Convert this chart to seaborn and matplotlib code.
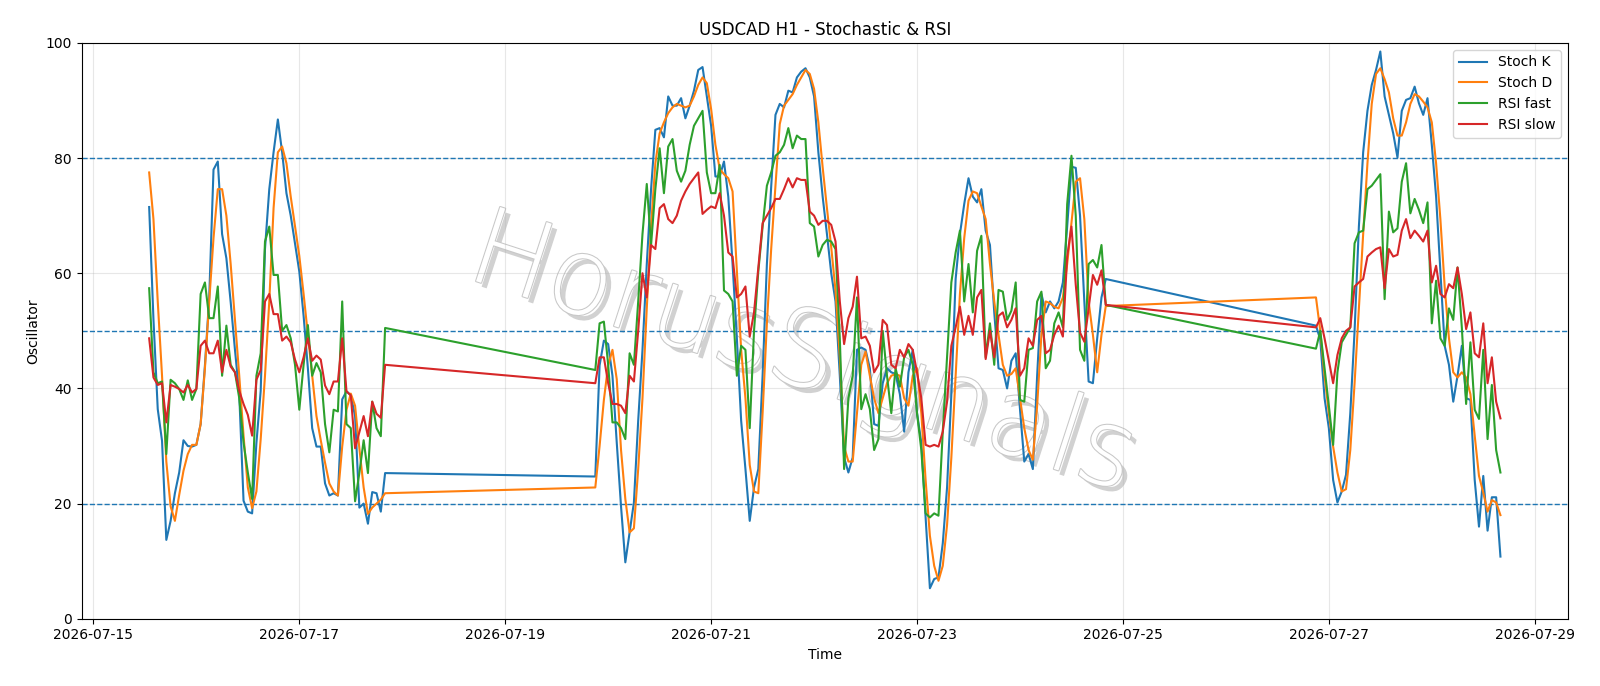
import numpy as np
import pandas as pd
import matplotlib
matplotlib.use("Agg")
import matplotlib.pyplot as plt
import matplotlib.dates as mdates
import matplotlib.patheffects as pe
import seaborn as sns

# ---- time axis: three hourly sessions (weekend gaps between) ----
seg1_start, seg1_n = "2026-07-15 13:00", 56
seg2_start, seg2_n = "2026-07-19 21:00", 120
seg3_start, seg3_n = "2026-07-26 21:00", 44

# ---- Stoch K ----
stoch_k = [
    71.5, 52, 36.4, 30.9, 13.7, 17, 21.8, 25.4, 31, 30, 29.9, 30.2, 33.8, 44, 55.8, 78, 79.4, 66.8, 62.6, 55,
    46.7, 39, 20.5, 18.6, 18.3, 30.5, 39.6, 64.2, 74.6, 81, 86.7, 81, 73.9, 70, 65.2, 60.3, 52.6, 43.5, 33.1, 29.9,
    29.9, 23.5, 21.4, 21.8, 21.4, 38.1, 39.5, 38.8, 35.2, 19.3, 20, 16.5, 22, 21.8, 18.6, 25.3,
    # seg 2
    24.7, 44, 48.3, 47.7, 42.2, 30.6, 19.5, 9.8, 15, 20.2, 34.4, 46.7, 61.6, 74.6, 84.9, 85.2, 83.6, 90.7, 89.1, 89.1,
    90.4, 86.9, 89.1, 91.7, 95.3, 95.8, 90.7, 85.6,
    76.8, 76.8, 79.4, 73.3, 61.6, 48.7, 34.4, 26, 17, 22.8, 26, 42.2, 61.6, 75, 87.5, 89.4, 88.8, 91.7, 91.4, 94,
    95, 95.6, 94, 90.7, 81, 73.3, 66.8, 60,
    55.1, 42.2, 28, 25.4, 28, 46.7, 47.1, 46.7, 43.5, 33.8, 33.5, 40.9, 43.5, 42.8, 42.5, 39, 32.5, 42.8, 46.7, 35.7,
    30.6, 17.6, 5.3, 6.9, 7.2, 13.1, 22.8, 39,
    59, 66.8, 72, 76.5, 73.3, 72.3, 74.6, 67.4, 64.9, 53.2, 43.5, 43.2, 40, 44.8, 46.1, 36.4, 27.3, 28.6, 26, 42.2,
    56.4, 53.2, 55.1, 53.9, 55.1, 58.4, 68.1, 78.5,
    78.3, 70, 55.1, 41.2, 40.9, 48.7, 55.8, 59,
    # seg 3
    50.9, 48.5, 38.3, 33.1, 24.1, 20.2, 22.1, 25, 35.7, 50, 68.1, 81, 88.2, 92.7, 95.3, 98.5, 90.7, 87.5, 84.3, 80.1,
    88.2, 90.1, 90.4, 92.4, 89.5, 87.5, 90.4, 82.3, 73.3, 60.3, 47.4, 44.1, 37.7, 42.2, 47.4, 38.3, 38, 24.1, 16, 24.8,
    15.3, 21.1, 21.1, 10.8,
]

# ---- Stoch D ----
stoch_d = [
    77.5, 69.4, 55.1, 42.2, 27.3, 19.5, 17, 21.5, 25.7, 28.6, 30.2, 30.2, 33.8, 43.5, 55.1, 66.1, 74.6, 74.6, 70, 61.6,
    51.9, 42.2, 31.8, 22.8, 19.2, 22.1, 31.2, 42.2, 55.1, 71.3, 81, 82, 79.1, 73.3, 68.1, 63, 56.4, 49.3, 42.2, 35.2,
    31, 27.1, 23.5, 22.1, 21.4, 29.9, 36.3, 39.1, 37, 29.6, 22.8, 18.2, 19.3, 20, 20.7, 21.8,
    # seg 2
    22.8, 30, 38, 44, 46.7, 41.6, 29.3, 20.8, 15, 15.7, 26, 38.3, 53.9, 68.1, 79.1, 84.3, 86.2, 87.8, 88.8, 89.4,
    89.1, 88.8, 89.1, 90.7, 92.7, 94, 93, 88.5,
    82.3, 78.1, 77.2, 76.5, 74.2, 60.3, 46.7, 38.3, 26.7, 22.1, 21.8, 35.7, 51.3, 64.2, 75.2, 85.9, 89.1, 90.1, 91.1, 92.7,
    94, 95.3, 94.6, 92, 86.2, 78.4, 71.3, 64.5,
    57, 45.4, 29.9, 27.3, 27.3, 35.7, 44.1, 46.4, 42.2, 38.3, 35.7, 38.3, 40.9, 42.2, 42.5, 42.2, 38.3, 37, 42.2, 43.5,
    35.7, 24.1, 14.4, 9.2, 6.6, 9.2, 16.3, 28,
    42.2, 56.4, 66.1, 72.6, 74.2, 73.9, 71.6, 69.4, 61.6, 55.1, 49.3, 44.1, 42.2, 42.5, 43.5, 38.3, 33.1, 29.3, 27.6, 37,
    49.3, 55.1, 54.8, 54.2, 53.9, 55.8, 61.6, 68.7,
    75.9, 76.5, 69.4, 55.1, 49.3, 42.8, 49.3, 54.3,
    # seg 3
    55.8, 50, 42.2, 35.7, 29.9, 25.4, 22.1, 22.5, 29.3, 40.9, 53.9, 66.8, 79.1, 89.4, 94.6, 95.6, 93.7, 91.4, 86.9, 83.9,
    83.9, 86.2, 89.4, 91.1, 90.7, 89.8, 88.8, 86.2, 79.1, 69.4, 57.7, 48.7, 42.8, 41.9, 42.8, 41.9, 39, 31.8, 24.8, 21.9,
    18.6, 20.6, 20.2, 18,
]

# ---- RSI fast ----
rsi_fast = [
    57.4, 42.8, 40.9, 41.2, 28.6, 41.5, 40.9, 39.9, 38, 41.4, 38, 39.9, 56.4, 58.4, 52.2, 52.2, 57.7, 42.2, 50.9, 44.1,
    42.8, 38.3, 30.6, 25.4, 20.8, 42.2, 46.1, 65.5, 68.1, 59.7, 59.7, 50, 51, 48.7, 44.1, 36.3, 44.1, 51, 42.2, 44.4,
    42.8, 33.8, 28.9, 36.3, 36, 55.1, 33.8, 33.1, 20.4, 25.3, 31, 25.3, 37.7, 33.1, 31.7, 50.5,
    # seg 2
    43.2, 51.3, 51.6, 44.1, 34.1, 34.1, 33.1, 31.2, 46.1, 44.1, 55.1, 66.8, 75.5, 64.9, 74.6, 81.7, 73.9, 82, 83.3, 77.8,
    75.9, 77.8, 82.3, 85.6, 86.9, 88.2, 77.5, 73.9,
    73.9, 78.8, 57, 56.4, 55.1, 42.2, 47.4, 46.7, 33.1, 50, 60.3, 68.1, 75.2, 77.5, 80.4, 81, 82.3, 85.2, 81.7, 83.9,
    83.3, 83.3, 68.7, 68.1, 62.9, 64.9, 65.8, 65.5,
    64.2, 48.7, 26, 38.3, 42.2, 55.8, 36.4, 39, 36.4, 29.3, 31.2, 50, 42.2, 35.7, 43.5, 40.3, 45.4, 46.7, 44.1, 35.7,
    29.3, 18.3, 17.6, 18.3, 17.9, 32.5, 45.4, 58.4,
    63.6, 67.4, 55.1, 61.6, 53.2, 63.9, 66.5, 45.4, 51.3, 44.1, 57.1, 56.8, 51.9, 53.5, 58.4, 38, 37.7, 46.7, 47, 55.1,
    56.8, 43.5, 44.8, 51.3, 53.2, 50.6, 72, 80.4,
    70, 46.7, 44.8, 61.6, 62.3, 61, 64.9, 54.5,
    # seg 3
    46.9, 50, 43.5, 37, 30.2, 42.8, 48, 49.3, 50.6, 65.2, 67.1, 67.4, 74.6, 75.2, 76.2, 77.2, 55.5, 70.7, 67.1, 67.8,
    75.9, 79.1, 70.4, 72.9, 71, 68.7, 72.3, 51.3, 58.7, 48.7, 47.4, 53.9, 51.9, 61, 50.6, 37.3, 48, 36.3, 34.7, 46.7,
    31.2, 40.6, 29.3, 25.4,
]

# ---- RSI slow ----
rsi_slow = [
    48.7, 41.9, 40.6, 40.9, 34.1, 40.6, 40.3, 39.9, 39.3, 40.6, 39.3, 39.9, 47.4, 48.3, 46.1, 46.1, 48.3, 42.8, 46.7, 43.8,
    42.8, 39.6, 37.3, 35.4, 31.8, 41.5, 43.2, 55.1, 56.4, 52.9, 52.9, 48.3, 49, 48, 45, 42.8, 45.4, 48.7, 44.8, 45.7,
    45, 40.5, 39, 41.2, 41.2, 48.7, 39.5, 38.8, 29.6, 32.4, 35.2, 31.7, 37.7, 35.6, 34.9, 44.1,
    # seg 2
    40.9, 45.4, 45.4, 40.9, 37.3, 37.3, 37, 35.7, 42.2, 41.2, 50, 60, 55.8, 64.9, 64.2, 71.3, 72, 69.4, 68.7, 70,
    72.6, 74.2, 75.5, 76.5, 77.5, 70.3, 71, 71.6,
    71.3, 73.9, 70, 63.6, 62.9, 55.8, 56.4, 57.7, 49, 53.2, 61, 68.7, 70, 71.3, 72.9, 72.9, 74.6, 76.5, 74.9, 76.5,
    76.2, 76.2, 70.7, 70, 68.4, 69.1, 69.1, 68.4,
    65.5, 55.1, 47.7, 52.2, 54.2, 59.4, 48.7, 49, 47.4, 42.8, 44.1, 51.9, 51, 44.1, 43.5, 46.7, 45.4, 47.7, 46.7, 42.8,
    38.3, 30.2, 29.9, 30.2, 29.9, 32.5, 37.7, 47.4,
    50.6, 54.2, 49.3, 52.6, 49.3, 55.8, 57.1, 45.1, 50, 45.4, 52.6, 53.2, 50.6, 51.9, 53.9, 42.2, 43.5, 48.7, 47.4, 51.9,
    52.6, 46.1, 46.7, 49.3, 50.9, 49, 62.9, 68.1,
    58, 49.7, 48.1, 53.9, 59.7, 58, 60.5, 54.5,
    # seg 3
    50.6, 52.2, 48.7, 44.8, 40.9, 45.8, 48.7, 50, 50.6, 57.7, 58.4, 59, 62.9, 63.6, 64.2, 64.5, 57.4, 64.2, 62.9, 63.2,
    67.4, 69.4, 66.1, 67.4, 66.5, 65.5, 67.4, 58.4, 61.3, 56.4, 55.8, 58.1, 57.4, 61, 56.4, 50.3, 53.2, 46.1, 45.4, 51.3,
    40.9, 45.4, 37.7, 34.8,
]

series_names = ["Stoch K", "Stoch D", "RSI fast", "RSI slow"]
levels = [20, 50, 80]

times = (pd.date_range(seg1_start, periods=seg1_n, freq="h")
         .append(pd.date_range(seg2_start, periods=seg2_n, freq="h"))
         .append(pd.date_range(seg3_start, periods=seg3_n, freq="h")))

df = pd.DataFrame({"Time": times, "Stoch K": stoch_k, "Stoch D": stoch_d,
                   "RSI fast": rsi_fast, "RSI slow": rsi_slow})
long = df.melt(id_vars="Time", var_name="series", value_name="value")

fig, ax = plt.subplots(figsize=(16, 6.86), dpi=100)
fig.subplots_adjust(left=0.051, right=0.980, top=0.9375, bottom=0.098)

palette = dict(zip(series_names, ["#1f77b4", "#ff7f0e", "#2ca02c", "#d62728"]))
sns.lineplot(data=long, x="Time", y="value", hue="series", hue_order=series_names,
             palette=palette, linewidth=1.5, ax=ax, estimator=None, sort=True)

for lv in levels:
    ax.axhline(lv, color="#1f77b4", linestyle="--", linewidth=1.0, zorder=1)

ax.set_ylim(0, 100)
ax.xaxis.set_major_locator(mdates.DayLocator(bymonthday=list(range(1, 32, 2))))
ax.xaxis.set_major_formatter(mdates.DateFormatter("%Y-%m-%d"))
ax.grid(True, color="#b0b0b0", alpha=0.3, linewidth=0.8)
ax.set_axisbelow(True)

ax.set_title("USDCAD H1 - Stochastic & RSI", fontsize=12)
ax.set_xlabel("Time", fontsize=10)
ax.set_ylabel("Oscillator", fontsize=10)

handles, labels = ax.get_legend_handles_labels()
ax.legend(handles, labels, loc="upper right", fontsize=10, title=None)

ax.text(0.485, 0.455, "HorusSignals", transform=ax.transAxes, fontsize=77,
        color="white", rotation=-18, ha="center", va="center", zorder=0.5,
        rotation_mode="anchor", fontweight="light",
        path_effects=[pe.SimplePatchShadow(offset=(4, -4), shadow_rgbFace="#999999", alpha=0.45),
                      pe.Stroke(linewidth=1.5, foreground="#c8c8c8"), pe.Normal()])

fig.savefig("out.png", dpi=100)
